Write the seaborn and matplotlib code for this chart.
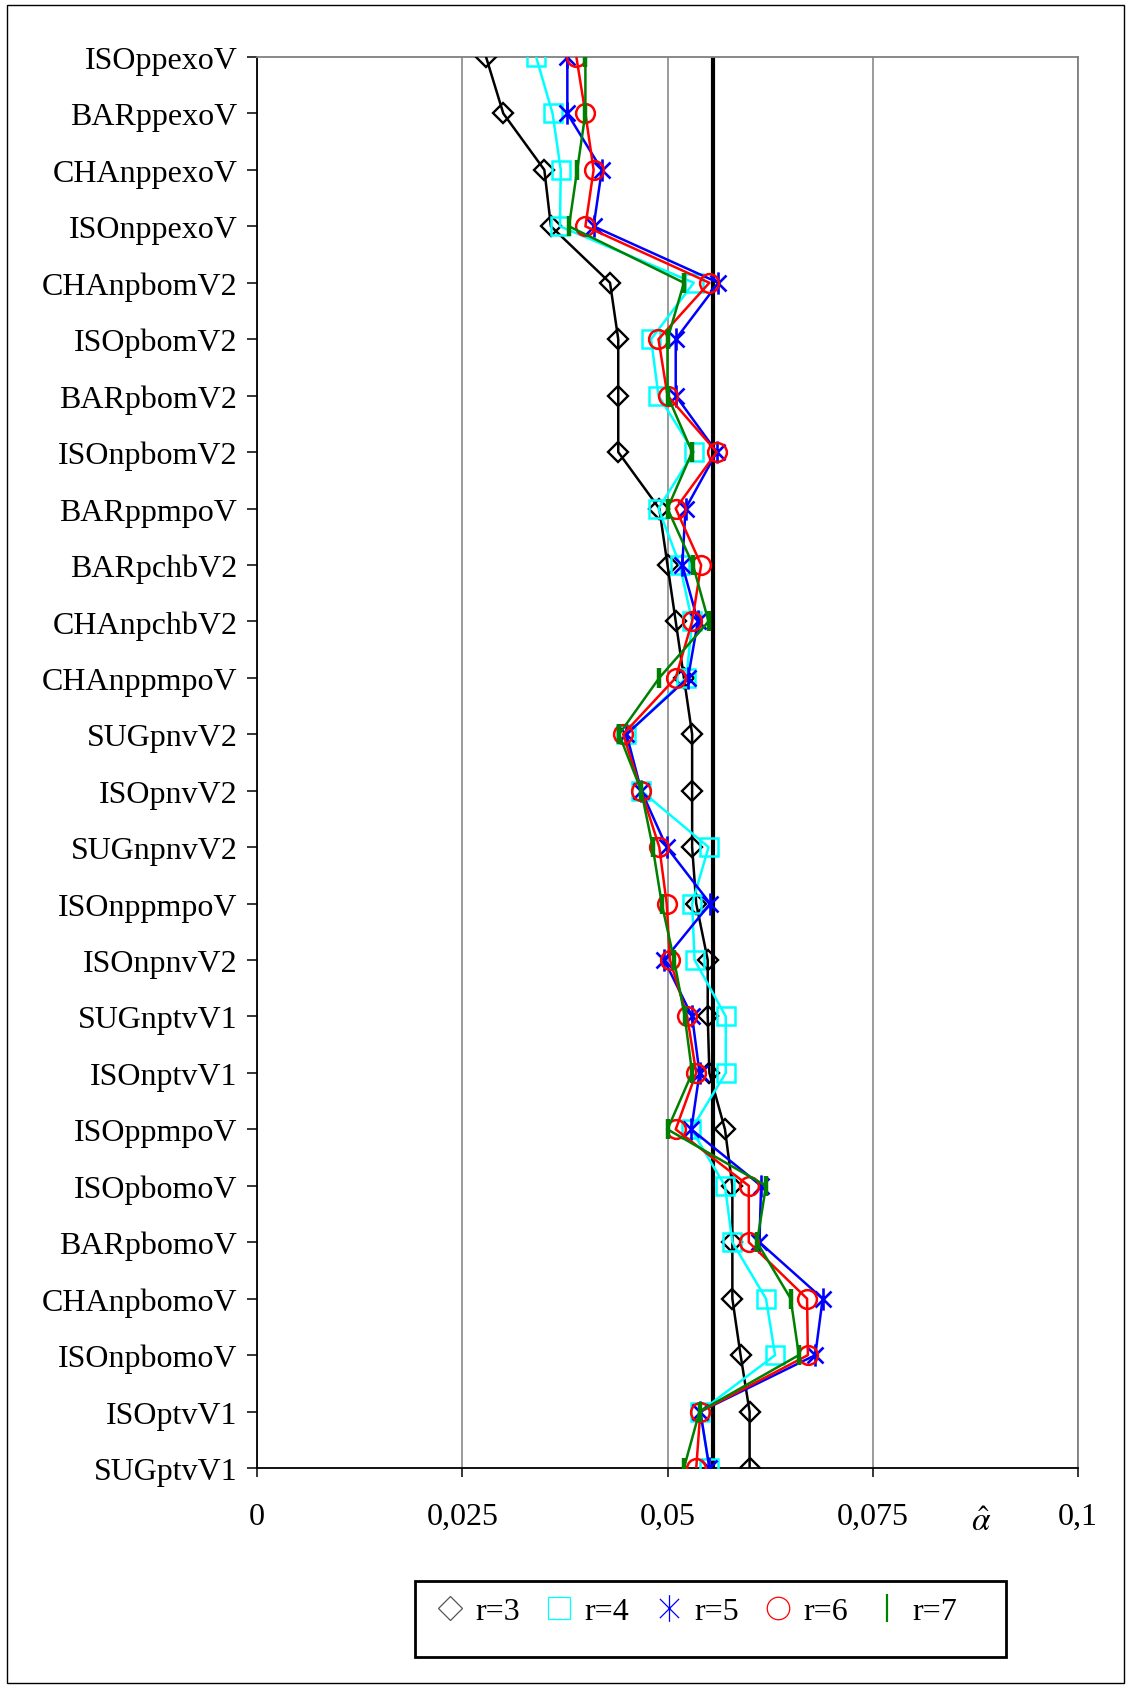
import numpy as np
import pandas as pd
import matplotlib
matplotlib.use("Agg")
import matplotlib.pyplot as plt
from matplotlib.path import Path
from matplotlib.lines import Line2D
from matplotlib.patches import Rectangle
from matplotlib.ticker import FuncFormatter
import seaborn as sns

categories = ["ISOppexoV", "BARppexoV", "CHAnppexoV", "ISOnppexoV", "CHAnpbomV2",
              "ISOpbomV2", "BARpbomV2", "ISOnpbomV2", "BARppmpoV", "BARpchbV2",
              "CHAnpchbV2", "CHAnppmpoV", "SUGpnvV2", "ISOpnvV2", "SUGnpnvV2",
              "ISOnppmpoV", "ISOnpnvV2", "SUGnptvV1", "ISOnptvV1", "ISOppmpoV",
              "ISOpbomoV", "BARpbomoV", "CHAnpbomoV", "ISOnpbomoV", "ISOptvV1", "SUGptvV1"]

r3 = [0.0279, 0.0300, 0.0350, 0.0358, 0.0430, 0.0440, 0.0440, 0.0440, 0.0490, 0.0500,
      0.0510, 0.0520, 0.0530, 0.0530, 0.0530, 0.0535, 0.0549, 0.0549, 0.0551, 0.0570,
      0.0579, 0.0579, 0.0579, 0.0589, 0.0600, 0.0600]
r4 = [0.0340, 0.0360, 0.0370, 0.0369, 0.0532, 0.0480, 0.0489, 0.0532, 0.0489, 0.0515,
      0.0530, 0.0523, 0.0450, 0.0468, 0.0550, 0.0530, 0.0533, 0.0571, 0.0571, 0.0529,
      0.0570, 0.0579, 0.0620, 0.0631, 0.0540, 0.0551]
r5 = [0.0378, 0.0378, 0.0420, 0.0410, 0.0562, 0.0510, 0.0510, 0.0560, 0.0522, 0.0518,
      0.0537, 0.0525, 0.0450, 0.0468, 0.0499, 0.0552, 0.0496, 0.0530, 0.0539, 0.0529,
      0.0614, 0.0612, 0.0689, 0.0680, 0.0540, 0.0551]
r6 = [0.0389, 0.0400, 0.0410, 0.0400, 0.0551, 0.0489, 0.0500, 0.0560, 0.0510, 0.0541,
      0.0530, 0.0510, 0.0446, 0.0468, 0.0490, 0.0499, 0.0503, 0.0524, 0.0535, 0.0510,
      0.0599, 0.0599, 0.0670, 0.0671, 0.0540, 0.0535]
r7 = [0.0400, 0.0400, 0.0390, 0.0380, 0.0520, 0.0500, 0.0500, 0.0530, 0.0500, 0.0531,
      0.0550, 0.0490, 0.0441, 0.0468, 0.0482, 0.0493, 0.0508, 0.0521, 0.0530, 0.0500,
      0.0620, 0.0609, 0.0650, 0.0660, 0.0539, 0.0520]

series_names = ["r=3", "r=4", "r=5", "r=6", "r=7"]
ref_value = 0.0556
xticks = [0, 0.025, 0.05, 0.075, 0.1]

rows = []
for name, vals in zip(series_names, [r3, r4, r5, r6, r7]):
    for i, v in enumerate(vals):
        rows.append({"series": name, "pos": i, "value": v})
df = pd.DataFrame(rows)

sns.set_theme(style="white")
plt.rcParams["font.family"] = ["Liberation Serif", "DejaVu Serif"]
plt.rcParams["mathtext.fontset"] = "stix"
plt.rcParams["text.color"] = "black"
plt.rcParams["xtick.color"] = "black"
plt.rcParams["ytick.color"] = "black"

star = Path([(0, -1), (0, 1), (-0.72, -0.72), (0.72, 0.72), (-0.72, 0.72), (0.72, -0.72)],
            [Path.MOVETO, Path.LINETO, Path.MOVETO, Path.LINETO, Path.MOVETO, Path.LINETO])

styles = {
    "r=3": dict(color="black", marker="D", markersize=10.5, mew=1.7),
    "r=4": dict(color="#00FFFF", marker="s", markersize=13.5, mew=1.8),
    "r=5": dict(color="#0000FF", marker=star, markersize=16, mew=1.9),
    "r=6": dict(color="#FF0000", marker="o", markersize=13.5, mew=1.8),
    "r=7": dict(color="#008000", marker="|", markersize=15, mew=3.2),
}

fig = plt.figure(figsize=(11.31, 16.90), dpi=100)
W, H = 1131, 1690
ax = fig.add_axes([257 / W, 1 - 1469 / H, (1078 - 257) / W, (1469 - 58) / H])

ax.axvline(ref_value, color="black", lw=3.0, zorder=1.5)

for name in series_names:
    st = styles[name]
    sub = df[df["series"] == name]
    sns.lineplot(data=sub, x="value", y="pos", sort=False, estimator=None, ax=ax,
                 color=st["color"], linewidth=1.8, marker=st["marker"],
                 markersize=st["markersize"], markerfacecolor="none",
                 markeredgecolor=st["color"], markeredgewidth=st["mew"],
                 zorder=3, legend=False)

ax.set_xlim(0, 0.1)
ax.set_ylim(len(categories) - 1, 0)
ax.set_yticks(range(len(categories)))
ax.set_yticklabels(categories)
ax.set_xticks(xticks)
ax.xaxis.set_major_formatter(FuncFormatter(lambda v, p: f"{v:g}".replace(".", ",")))
ax.set_xlabel("")
ax.set_ylabel("")
ax.grid(axis="x", color="#808080", lw=1.1)
ax.grid(axis="y", visible=False)
ax.tick_params(axis="y", direction="out", length=7.2, width=1.1, color="black",
               labelsize=23, labelcolor="black", pad=7, left=True)
ax.tick_params(axis="x", direction="out", length=6.5, width=1.1, color="black",
               labelsize=23, labelcolor="black", pad=18, bottom=True)
for s in ["top", "right"]:
    ax.spines[s].set_color("#808080")
    ax.spines[s].set_linewidth(1.3)
for s in ["left", "bottom"]:
    ax.spines[s].set_color("black")
    ax.spines[s].set_linewidth(1.3)

ax.text(0.882, -0.038, r"$\hat{\alpha}$", transform=ax.transAxes, fontsize=24,
        ha="center", va="center", color="black")

handles = []
for name in series_names:
    st = styles[name]
    handles.append(Line2D([], [], linestyle="none", marker=st["marker"],
                          markersize=st["markersize"] * (1.2 if name != "r=7" else 1.35),
                          markerfacecolor="none",
                          markeredgecolor=("#555555" if name == "r=3" else st["color"]),
                          markeredgewidth=(0.9 if name != "r=7" else 1.6)))
fig.legend(handles, series_names, ncol=5, frameon=False, loc="center left",
           bbox_to_anchor=(434 / W, 1 - 1612 / H), fontsize=23, labelcolor="black",
           handlelength=1.0, handletextpad=0.3, columnspacing=0.72,
           borderaxespad=0, borderpad=0)
fig.add_artist(Rectangle((415 / W, 1 - 1658 / H), (1006 - 415) / W, (1658 - 1582) / H,
                         transform=fig.transFigure, fill=False, edgecolor="black", lw=2.0))
fig.add_artist(Rectangle((7 / W, 1 - 1684 / H), (1124 - 7) / W, (1684 - 6) / H,
                         transform=fig.transFigure, fill=False, edgecolor="black", lw=1.0))

fig.savefig("out.png", dpi=100)
